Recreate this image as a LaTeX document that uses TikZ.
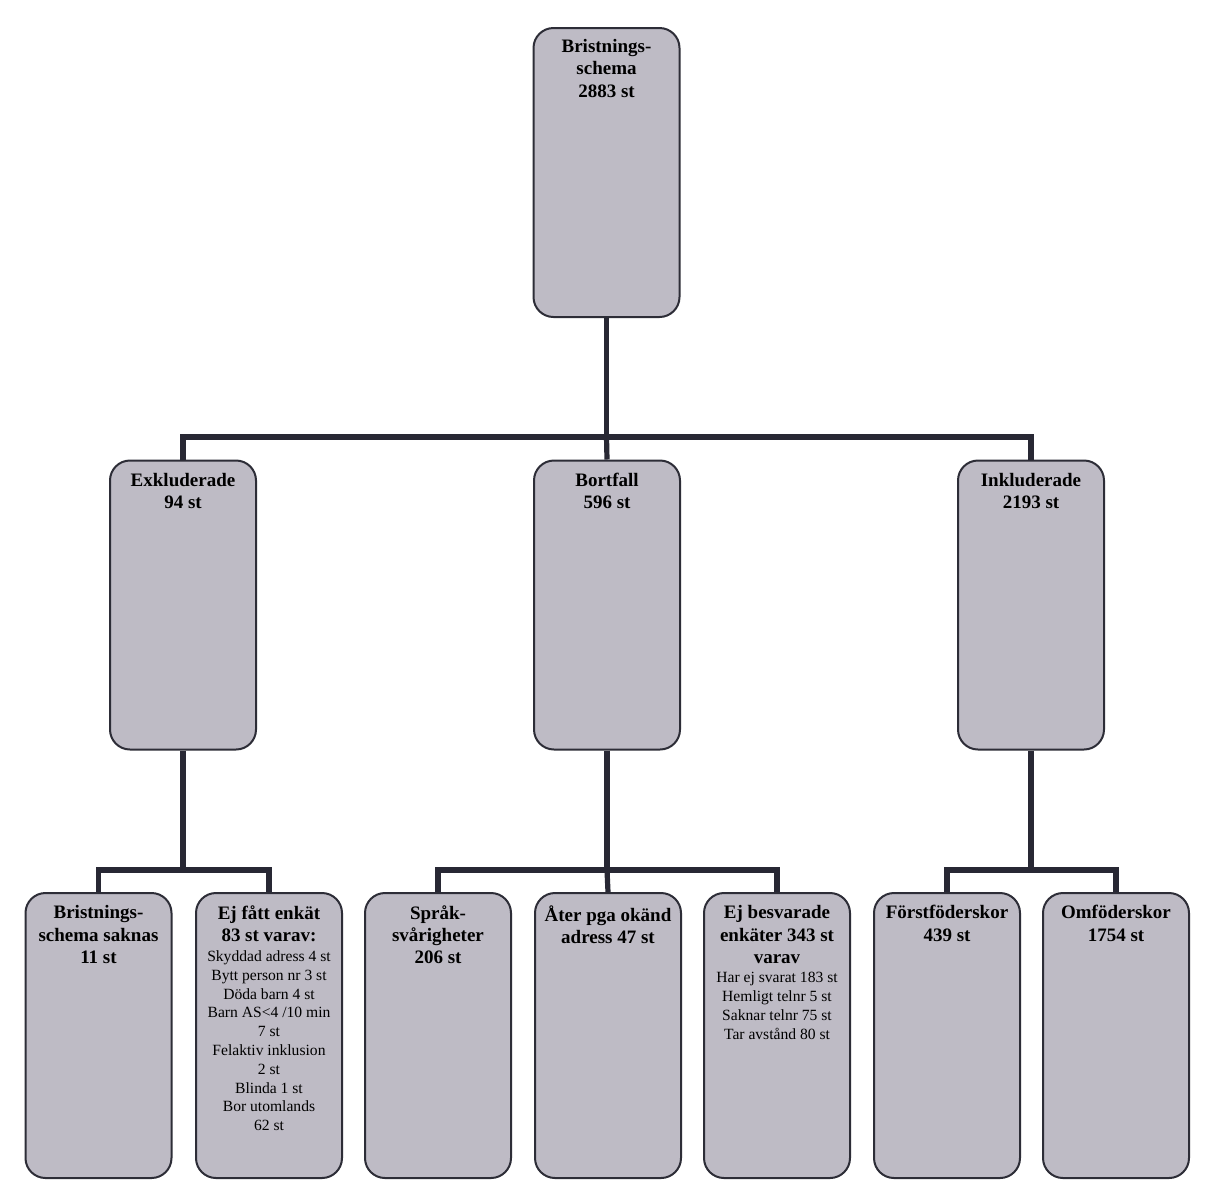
\documentclass[tikz,border=0pt]{standalone}
\usepackage{fontspec}
\setmainfont{Liberation Serif}
\definecolor{boxfill}{RGB}{190,187,197}
\definecolor{boxline}{RGB}{45,45,55}
\definecolor{conn}{RGB}{40,40,52}
\tikzset{
  box/.style={draw=boxline, line width=1pt, fill=boxfill, rounded corners=10pt,
    minimum width=73pt, inner sep=0pt},
  tallbox/.style={box, minimum height=144.5pt},
  lowbox/.style={box, minimum height=142.5pt},
  lbl/.style={anchor=north, align=center, inner sep=0pt,
    font=\fontsize{9.5}{11.2}\selectfont\bfseries},
  small/.style={anchor=north, align=center, inner sep=0pt,
    font=\fontsize{7.8}{9.4}\selectfont},
  conn/.style={draw=conn, line width=2.6pt}
}
\begin{document}
\begin{tikzpicture}[x=0.5pt,y=-0.5pt]
\useasboundingbox (0,0) rectangle (1205,1180);
\fill[white] (0,0) rectangle (1205,1180);
% level 0
\node[tallbox] (top) at (606.5,172.5) {};
% level 1
\node[tallbox] (excl) at (183,605) {};
\node[tallbox] (bort) at (607,605) {};
\node[tallbox] (incl) at (1031,605) {};
% level 2
\node[lowbox] (saknas) at (98.5,1035.5) {};
\node[lowbox] (ejfatt) at (269,1035.5) {};
\node[lowbox] (sprak) at (438,1035.5) {};
\node[lowbox] (ater) at (608,1035.5) {};
\node[lowbox] (ejbes) at (777,1035.5) {};
\node[lowbox] (forst) at (947,1035.5) {};
\node[lowbox] (omf) at (1116,1035.5) {};
% connector buses
\coordinate (bus0) at (606.5,437);
\coordinate (bus1) at (183,870);
\coordinate (bus2) at (607,870);
\coordinate (bus3) at (1031,870);
\draw[conn] (top.south) -- (bus0);
\draw[conn] (bus0) -| (excl.north);
\draw[conn] (bus0) -| (incl.north);
\draw[conn] (bus0) -- (bort.north);
\draw[conn] (excl.south) -- (bus1);
\draw[conn] (bus1) -| (saknas.north);
\draw[conn] (bus1) -| (ejfatt.north);
\draw[conn] (bort.south) -- (bus2);
\draw[conn] (bus2) -| (sprak.north);
\draw[conn] (bus2) -| (ejbes.north);
\draw[conn] (bus2) -- (ater.north);
\draw[conn] (incl.south) -- (bus3);
\draw[conn] (bus3) -| (forst.north);
\draw[conn] (bus3) -| (omf.north);
% labels
\node[lbl] (ttop) at ([yshift=-6pt]top.north) {Bristnings-\\schema\\2883 st};
\node[lbl] (texcl) at ([yshift=-6.5pt]excl.north) {Exkluderade\\94 st};
\node[lbl] (tbort) at ([yshift=-6.5pt]bort.north) {Bortfall\\596 st};
\node[lbl] (tincl) at ([yshift=-6.5pt]incl.north) {Inkluderade\\2193 st};
\node[lbl] (tsaknas) at ([yshift=-6.5pt]saknas.north) {Bristnings-\\schema saknas\\11 st};
\node[lbl] (tejfatt) at ([yshift=-6.5pt]ejfatt.north) {Ej fått enkät\\83 st varav:};
\node[small] (sejfatt) at ([yshift=-4pt]tejfatt.south) {Skyddad adress 4 st\\Bytt person nr 3 st\\Döda barn 4 st\\Barn AS<4 /10 min\\7 st\\Felaktiv inklusion\\2 st\\Blinda 1 st\\Bor utomlands\\62 st};
\node[lbl] (tsprak) at ([yshift=-6.5pt]sprak.north) {Språk-\\svårigheter\\206 st};
\node[lbl] (tater) at ([yshift=-6.5pt]ater.north) {Åter pga okänd\\adress 47 st};
\node[lbl] (tejbes) at ([yshift=-6.5pt]ejbes.north) {Ej besvarade\\enkäter 343 st\\varav};
\node[small] (sejbes) at ([yshift=-4pt]tejbes.south) {Har ej svarat 183 st\\Hemligt telnr 5 st\\Saknar telnr 75 st\\Tar avstånd 80 st};
\node[lbl] (tforst) at ([yshift=-6.5pt]forst.north) {Förstföderskor\\439 st};
\node[lbl] (tomf) at ([yshift=-6.5pt]omf.north) {Omföderskor\\1754 st};
\end{tikzpicture}
\end{document}
